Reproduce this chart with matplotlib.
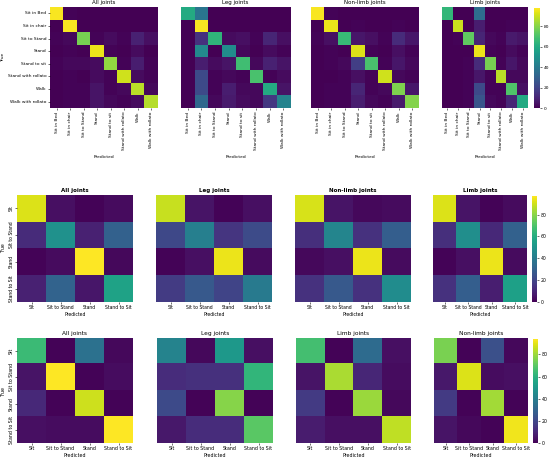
import numpy as np
import matplotlib
matplotlib.use('Agg')
import matplotlib.pyplot as plt

# ---- data (percent of true class) ----
labels8 = ['Sit in Bed', 'Sit in chair', 'Sit to Stand', 'Stand', 'Stand to sit',
           'Stand with rollato', 'Walk', 'Walk with rollato']
labels4 = ['Sit', 'Sit to Stand', 'Stand', 'Stand to Sit']

titles_r1 = ['All joints', 'Leg joints', 'Non-limb joints', 'Limb joints']
titles_r2 = ['All joints', 'Leg joints', 'Non-limb joints', 'Limb joints']
titles_r3 = ['All joints', 'Leg joints', 'Limb joints', 'Non-limb joints']

r1_all = [[97, 1, 0, 0, 0, 0, 0, 0],
          [0, 97, 0, 0, 0, 0, 0, 0],
          [1, 2, 78, 1, 3, 1, 9, 4],
          [0, 1, 0, 95, 1, 0, 3, 0],
          [1, 2, 2, 3, 82, 1, 8, 1],
          [0, 1, 0, 3, 1, 91, 3, 1],
          [0, 1, 1, 5, 1, 2, 88, 2],
          [0, 1, 1, 5, 2, 1, 3, 87]]
r1_leg = [[60, 38, 0, 0, 0, 0, 0, 0],
          [0, 97, 0, 0, 0, 0, 0, 0],
          [0, 14, 64, 3, 4, 1, 10, 4],
          [0, 46, 0, 48, 2, 0, 3, 1],
          [0, 8, 3, 5, 68, 2, 9, 5],
          [0, 22, 1, 2, 1, 70, 1, 3],
          [0, 22, 1, 8, 2, 2, 60, 5],
          [0, 33, 2, 7, 3, 2, 16, 44]]
r1_nonlimb = [[97, 1, 0, 0, 0, 0, 0, 0],
              [0, 95, 0, 1, 0, 0, 1, 0],
              [1, 4, 66, 6, 4, 1, 12, 6],
              [0, 1, 0, 93, 1, 0, 4, 1],
              [0, 1, 2, 18, 70, 1, 6, 2],
              [0, 0, 1, 4, 1, 91, 2, 1],
              [0, 1, 1, 10, 1, 2, 79, 6],
              [0, 1, 1, 8, 2, 1, 7, 80]]
r1_limb = [[65, 0, 0, 35, 0, 0, 0, 0],
           [0, 90, 0, 8, 0, 0, 1, 1],
           [0, 1, 74, 10, 2, 1, 7, 5],
           [0, 0, 0, 95, 1, 0, 3, 1],
           [0, 0, 1, 12, 78, 1, 6, 2],
           [0, 0, 1, 6, 1, 88, 2, 2],
           [0, 0, 1, 22, 1, 1, 71, 4],
           [0, 0, 1, 26, 2, 1, 10, 60]]

r2_all = [[92, 4, 1, 3],
          [12, 49, 9, 30],
          [1, 3, 97, 2],
          [9, 31, 6, 56]]
r2_leg = [[89, 5, 1, 4],
          [21, 42, 15, 22],
          [1, 4, 94, 3],
          [17, 27, 20, 40]]
r2_nonlimb = [[91, 5, 2, 3],
              [13, 44, 14, 29],
              [2, 4, 94, 3],
              [14, 27, 14, 47]]
r2_limb = [[92, 5, 1, 3],
           [13, 48, 11, 30],
           [1, 4, 94, 3],
           [14, 29, 8, 55]]

r3_all = [[64, 1, 35, 2],
          [5, 94, 1, 3],
          [11, 1, 87, 1],
          [4, 3, 3, 94]]
r3_leg = [[42, 2, 50, 4],
          [12, 13, 13, 62],
          [21, 1, 77, 1],
          [6, 12, 12, 70]]
r3_limb = [[66, 1, 33, 4],
           [5, 82, 10, 3],
           [16, 1, 80, 2],
           [7, 4, 4, 85]]
r3_nonlimb = [[75, 1, 23, 2],
              [6, 89, 3, 4],
              [16, 1, 81, 1],
              [5, 2, 1, 92]]

H, W = 461.0, 550.0


def rect(x0, x1, y0, y1):
    # pixel box -> figure fraction
    return [x0 / W, 1 - y1 / H, (x1 - x0) / W, (y1 - y0) / H]


def draw_row(fig, mats, titles, labels, xs, ys, cbx, vmax, tfs, lfs, bold, rot, xpad):
    im = None
    for i, m in enumerate(mats):
        ax = fig.add_axes(rect(xs[i][0], xs[i][1], ys[0], ys[1]))
        im = ax.imshow(np.array(m), cmap='viridis', vmin=0, vmax=vmax,
                       aspect='auto', interpolation='nearest')
        ax.set_title(titles[i], fontsize=tfs, pad=2,
                     fontweight='bold' if bold else 'normal')
        ax.set_xticks(range(len(labels)))
        ax.set_xticklabels(labels, rotation=rot, fontsize=lfs)
        ax.set_xlabel('Predicted', fontsize=lfs, labelpad=xpad)
        if i == 0:
            ax.set_yticks(range(len(labels)))
            ax.set_yticklabels(labels, fontsize=lfs,
                               rotation=0 if rot == 90 else 90, va='center')
            ax.set_ylabel('True', fontsize=lfs, labelpad=2)
        else:
            ax.set_yticks([])
        ax.tick_params(length=1.5, width=0.4, pad=1)
        for s in ax.spines.values():
            s.set_visible(False)
    cax = fig.add_axes(rect(cbx[0], cbx[1], ys[0] + 1, ys[1]))
    cb = fig.colorbar(im, cax=cax, ticks=[0, 20, 40, 60, 80])
    cb.outline.set_visible(False)
    cb.ax.tick_params(labelsize=lfs, length=1.5, width=0.4, pad=1)


fig = plt.figure(figsize=(5.5, 4.61), dpi=100)

draw_row(fig, [r1_all, r1_leg, r1_nonlimb, r1_limb], titles_r1, labels8,
         [(50, 158), (181, 290), (311, 419), (442, 528)], (7, 108), (534, 540),
         98, 4.0, 3.2, False, 90, 3.5)
draw_row(fig, [r2_all, r2_leg, r2_nonlimb, r2_limb], titles_r2, labels4,
         [(17, 133), (156, 272), (295, 411), (433, 527)], (195, 302), (532, 537),
         97, 4.0, 3.3, True, 0, 1)
draw_row(fig, [r3_all, r3_leg, r3_limb, r3_nonlimb], titles_r3, labels4,
         [(17, 133), (157, 273), (296, 411), (434, 528)], (338, 443), (533, 538),
         94, 4.2, 3.4, False, 0, 1)

fig.savefig('out.png', dpi=100)
